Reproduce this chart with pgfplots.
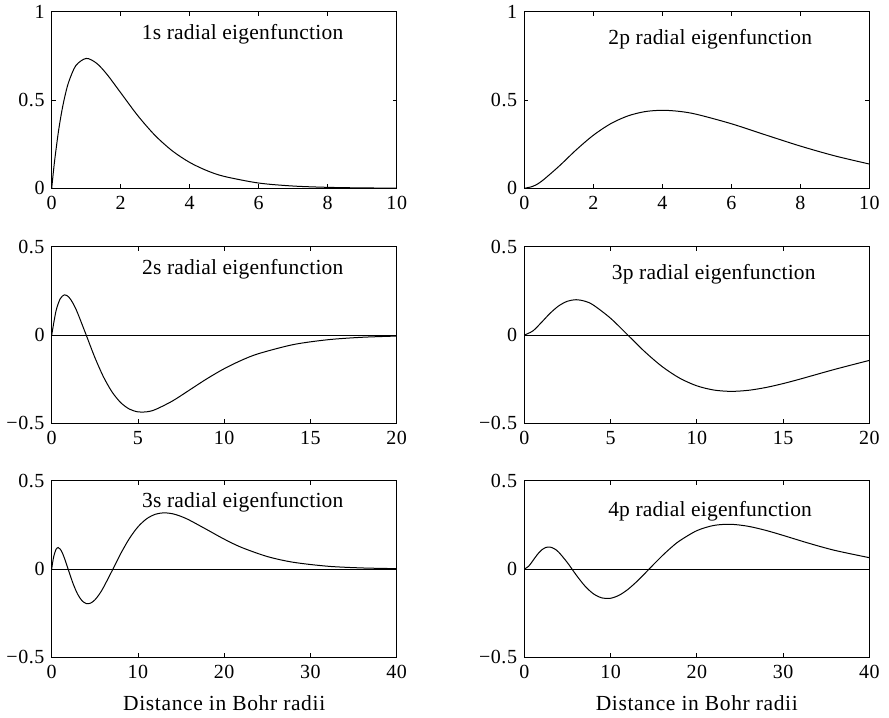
\documentclass[border=0pt]{standalone}
\usepackage{fontspec}
\setmainfont{Liberation Serif}
\newfontfamily\tickf[LetterSpace=3]{Liberation Serif}
\newfontfamily\textf[LetterSpace=1]{Liberation Serif}
\newfontfamily\xlabf[LetterSpace=3]{Liberation Serif}
\usepackage{pgfplots}
\pgfplotsset{compat=1.18}
\pgfplotsset{
  myax/.style={
    scale only axis, width=345bp, height=176.5bp, anchor=south west,
    axis line style={line width=1.1bp},
    tick align=inside, major tick length=4bp,
    tick style={black, line width=0.8bp},
    /pgf/number format/assume math mode=true,
    tick label style={font=\tickf\fontsize{20bp}{20bp}\selectfont},
    xticklabel style={inner sep=0pt, anchor=north, yshift=-8bp},
    yticklabel style={inner sep=0pt, anchor=east, xshift=-7bp},
    xlabel style={font=\xlabf\fontsize{21.5bp}{21.5bp}\selectfont, at={(axis description cs:0.5,0)}, anchor=base, inner sep=0pt, yshift=-53.5bp},
    every axis plot/.append style={black},
  },
  curve/.style={black, line width=1bp, smooth, mark=none},
  zline/.style={black, line width=0.6bp, mark=none},
}
\newcommand{\lab}{\textf\fontsize{21.5bp}{21.5bp}\selectfont}
\begin{document}
\begin{tikzpicture}
\path[use as bounding box] (0,0) rectangle (889bp,718bp);
% ---------- 1s ----------
\begin{axis}[myax, at={(51.7bp,529.7bp)}, xmin=0, xmax=10, ymin=0, ymax=1,
  xtick={0,2,4,6,8,10}, ytick={0,0.5,1}]
\addplot[curve] coordinates {(0,0) (0.05,0.0951) (0.1,0.18097) (0.2,0.32749) (0.3,0.44449) (0.4,0.53626) (0.5,0.60653) (0.7,0.69522) (1,0.73576) (1.3,0.70858) (1.6,0.64607) (2,0.54134) (2.5,0.41042) (3,0.29872) (3.5,0.21138) (4,0.14653) (4.5,0.09998) (5,0.06738) (6,0.02975) (7,0.01277) (8,0.00537) (9,0.00222) (10,0.00091)};
\node[anchor=base west, inner sep=0pt, font=\lab] at (axis cs:2.61,0.845) {1s radial eigenfunction};
\end{axis}
% ---------- 2p ----------
\begin{axis}[myax, at={(524.3bp,529.7bp)}, xmin=0, xmax=10, ymin=0, ymax=1,
  xtick={0,2,4,6,8,10}, ytick={0,0.5,1}]
\addplot[curve] coordinates {(0,0) (0.25,0.01126) (0.5,0.03974) (1,0.12381) (1.5,0.21695) (2,0.30037) (2.5,0.36552) (3,0.40992) (3.5,0.43452) (4,0.44200) (4.5,0.43567) (5,0.41889) (6,0.36586) (7,0.30204) (8,0.23928) (9,0.18368) (10,0.13754)};
\node[anchor=base west, inner sep=0pt, font=\lab] at (axis cs:2.43,0.816) {2p radial eigenfunction};
\end{axis}
% ---------- 2s ----------
\begin{axis}[myax, at={(51.7bp,294.7bp)}, xmin=0, xmax=20, ymin=-0.5, ymax=0.5,
  xtick={0,5,10,15,20}, ytick={-0.5,0,0.5}, yticklabels={−0.5,0,0.5}]
\addplot[zline] coordinates {(0,0) (20,0)};
\addplot[curve] coordinates {(0,0) (0.25,0.13650) (0.5,0.20651) (0.75,0.22781) (1,0.21444) (1.25,0.17741) (1.5,0.12525) (2,0) (2.5,-0.12662) (3,-0.23666) (3.5,-0.32255) (4,-0.38278) (4.5,-0.41922) (5,-0.43532) (5.5,-0.43509) (6,-0.42245) (7,-0.37367) (8,-0.31083) (9,-0.24744) (10,-0.19058) (11,-0.14305) (12,-0.10517) (14,-0.05416) (16,-0.02657) (18,-0.01257) (20,-0.00578)};
\node[anchor=base west, inner sep=0pt, font=\lab] at (axis cs:5.23,0.343) {2s radial eigenfunction};
\end{axis}
% ---------- 3p ----------
\begin{axis}[myax, at={(524.3bp,294.7bp)}, xmin=0, xmax=20, ymin=-0.5, ymax=0.5,
  xtick={0,5,10,15,20}, ytick={-0.5,0,0.5}, yticklabels={−0.5,0,0.5}]
\addplot[zline] coordinates {(0,0) (20,0)};
\addplot[curve] coordinates {(0,0) (0.5,0.023465) (1,0.072228) (1.5,0.123807) (2,0.165611) (2.5,0.191661) (3,0.200247) (3.5,0.192264) (4,0.170055) (5,0.095195) (6,0) (7,-0.095795) (8,-0.179303) (9,-0.243905) (10,-0.287680) (11,-0.311769) (12,-0.319040) (13,-0.313004) (14,-0.297262) (15,-0.275074) (16,-0.249171) (18,-0.194297) (20,-0.143676)};
\node[anchor=base west, inner sep=0pt, font=\lab] at (axis cs:5.07,0.315) {3p radial eigenfunction};
\end{axis}
% ---------- 3s ----------
\begin{axis}[myax, at={(51.7bp,60.7bp)}, xmin=0, xmax=40, ymin=-0.5, ymax=0.5,
  xtick={0,10,20,30,40}, ytick={-0.5,0,0.5}, yticklabels={−0.5,0,0.5},
  xlabel={Distance in Bohr radii}]
\addplot[zline] coordinates {(0,0) (40,0)};
\addplot[curve] coordinates {(0,0) (0.1,0.034774) (0.25,0.074186) (0.5,0.111621) (0.75,0.121778) (1,0.112360) (1.25,0.089573) (1.5,0.058364) (2,-0.014638) (2.5,-0.085187) (3,-0.141597) (3.5,-0.178679) (4,-0.195401) (4.5,-0.193236) (5,-0.175016) (5.5,-0.144158) (6,-0.104181) (7,-0.009677) (8,0.087166) (9,0.172468) (10,0.239018) (11,0.284587) (12,0.310185) (13,0.318615) (14,0.313419) (15,0.298243) (16,0.276400) (18,0.223256) (20,0.169443) (22,0.12275) (25,0.070845) (28,0.038508) (32,0.015939) (36,0.006215) (40,0.002315)};
\node[anchor=base west, inner sep=0pt, font=\lab] at (axis cs:10.46,0.35) {3s radial eigenfunction};
\end{axis}
% ---------- 4p ----------
\begin{axis}[myax, at={(524.3bp,60.7bp)}, xmin=0, xmax=40, ymin=-0.5, ymax=0.5,
  xtick={0,10,20,30,40}, ytick={-0.5,0,0.5}, yticklabels={−0.5,0,0.5},
  xlabel={Distance in Bohr radii}]
\addplot[zline] coordinates {(0,0) (40,0)};
\addplot[curve] coordinates {(0,0) (0.5,0.015632) (1,0.047915) (1.5,0.081493) (2,0.107666) (2.5,0.122311) (3,0.124346) (3.5,0.114597) (4,0.094986) (5,0.036121) (6,-0.032407) (7,-0.094469) (8,-0.139773) (9,-0.163603) (10,-0.165579) (11,-0.148232) (12,-0.115695) (13,-0.072700) (14,-0.023878) (15,0.026685) (16,0.075665) (17,0.120573) (18,0.159732) (20,0.217466) (22,0.247378) (24,0.253447) (26,0.241911) (28,0.219200) (30,0.190779) (33,0.146062) (36,0.105825) (40,0.064472)};
\node[anchor=base west, inner sep=0pt, font=\lab] at (axis cs:9.71,0.299) {4p radial eigenfunction};
\end{axis}
\end{tikzpicture}
\end{document}
